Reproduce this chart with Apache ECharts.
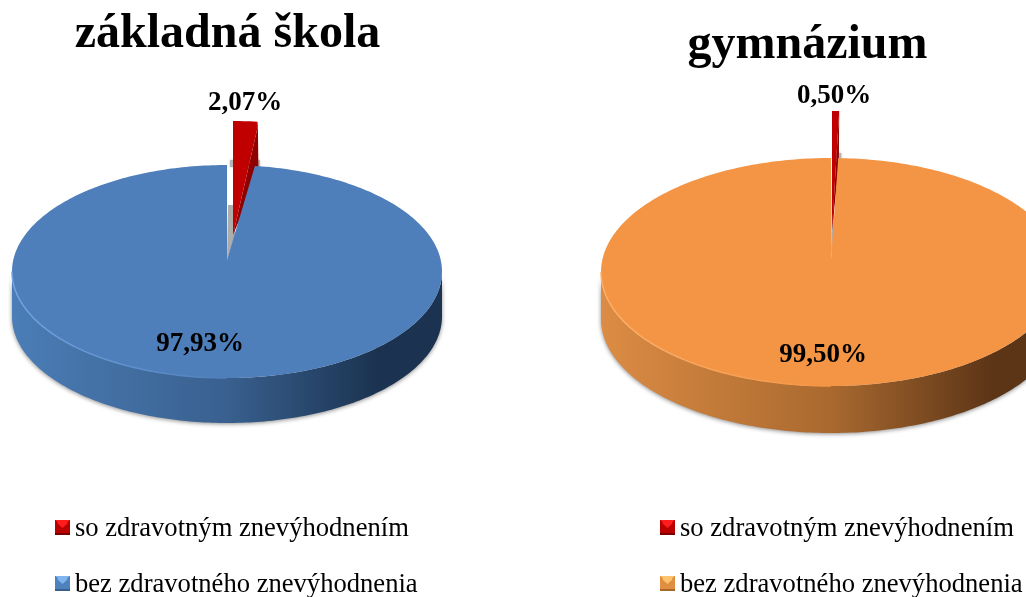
<!DOCTYPE html>
<html>
<head>
<meta charset="utf-8">
<script src="https://cdn.jsdelivr.net/npm/echarts@6/dist/echarts.min.js"></script>
<style>html,body{margin:0;padding:0;background:#fff}#chart{width:1026px;height:597px}</style>
</head>
<body>
<div id="chart"></div>
<script>
var sliceNames = ['so zdravotným znevýhodnením', 'bez zdravotného znevýhodnenia'];
var pieTitles = ['základná škola', 'gymnázium'];
var schoolValues = [2.07, 97.93];
var gymValues = [0.50, 99.50];

var SERIF = '"Liberation Serif", "Times New Roman", serif';

var schoolPie = {
    cx: 227, cy: 271.5, rx: 215, ry: 106.5, apexX: 227, apexY: 260, depth: 45,
    liftX: 6, liftTop: 44, liftApex: 25, wall: 55, tipX: -3, tipY: 4,
    labels: [[245, 103], [200, 344]],
    top: '#4e7fbb', rim: '#74a5e2',
    side: ['#4b7db6', '#39608f', '#1b3350']
};
var gymPie = {
    cx: 831, cy: 272, rx: 230, ry: 114, apexX: 831, apexY: 260, depth: 47,
    liftX: 1, liftTop: 47, liftApex: 30, wall: 100, tipX: 0, tipY: 0,
    labels: [[834, 96], [823, 355]],
    top: '#f39545', rim: '#fbb26e',
    side: ['#dc8c44', '#a9692f', '#5c3517']
};

function arcPoints(p, from, to, dx, dy) {
    var pts = [];
    var n = Math.max(2, Math.ceil((to - from) / (Math.PI / 180)));
    for (var i = 0; i <= n; i++) {
        var a = from + (to - from) * i / n;
        pts.push([p.cx + p.rx * Math.sin(a) + dx, p.cy - p.ry * Math.cos(a) + dy]);
    }
    return pts;
}

function fmt(v) {
    return v.toFixed(2).replace('.', ',') + '%';
}

function labelEl(p, i, v) {
    return {
        type: 'text', z2: 20,
        style: {
            x: p.labels[i][0], y: p.labels[i][1], text: fmt(v), align: 'center', verticalAlign: 'middle',
            font: 'bold 27px ' + SERIF, fill: '#000'
        }
    };
}

// maly vysunuty vysek (cerveny)
function smallSlice(p, v, total) {
    var end = v / total * Math.PI * 2;
    var arc = arcPoints(p, 0, end, p.liftX, -p.liftTop);
    var a = [p.apexX + p.liftX, p.apexY - p.liftApex];
    var right = arc[arc.length - 1];
    right = [right[0] + p.tipX, right[1] + p.tipY];
    arc[arc.length - 1] = right;
    var notch = [p.cx + p.rx * Math.sin(end) + p.liftX * 0.6, p.cy - p.ry * Math.cos(end) + 8];
    return [
        {type: 'polygon', shape: {points: [[p.apexX, p.apexY], [p.apexX + 1, p.apexY - p.wall], [p.apexX + p.liftX + 2, p.apexY - p.wall], [p.apexX + p.liftX + 2, p.apexY - p.liftApex]]}, style: {fill: '#adadad'}},
        {type: 'polygon', shape: {points: [[p.cx + 3, p.cy - p.ry - 5], [right[0] + 2, p.cy - p.ry - 5], [right[0] + 2, p.cy - p.ry + 2], [p.cx + 3, p.cy - p.ry + 2]]}, style: {fill: '#b4b4b4', shadowBlur: 3, shadowColor: 'rgba(0,0,0,0.25)'}},
        {type: 'polygon', shape: {points: [right, notch, a]}, style: {fill: '#8f0000'}},
        {type: 'polygon', shape: {points: [a].concat(arc)}, style: {fill: '#c00000'}},
        labelEl(p, 0, v)
    ];
}

// velky vysek s bocnou stenou
function bigSlice(p, v, total) {
    var start = (total - v) / total * Math.PI * 2;
    var wallTop = arcPoints(p, Math.PI / 2, Math.PI * 1.5, 0, 0);
    var wallBottom = arcPoints(p, Math.PI / 2, Math.PI * 1.5, 0, p.depth).reverse();
    var rim = arcPoints(p, Math.PI, Math.PI * 1.5, 0, 0);
    return [
        {
            type: 'polygon', shape: {points: wallTop.concat(wallBottom)},
            style: {
                fill: new echarts.graphic.LinearGradient(0, 0, 1, 0, [
                    {offset: 0, color: p.side[0]}, {offset: 0.5, color: p.side[1]}, {offset: 0.85, color: p.side[2]}, {offset: 1, color: p.side[2]}
                ]),
                shadowBlur: 4, shadowOffsetY: 1, shadowColor: 'rgba(0,0,0,0.45)'
            }
        },
        {type: 'polygon', shape: {points: [[p.apexX, p.apexY]].concat(arcPoints(p, start, Math.PI * 2, 0, 0))}, style: {fill: p.top}},
        {
            type: 'polyline', shape: {points: rim},
            style: {
                fill: 'none', lineWidth: 1.5,
                stroke: new echarts.graphic.LinearGradient(0, 0, 1, 0, [{offset: 0, color: p.rim}, {offset: 1, color: p.top}])
            }
        },
        labelEl(p, 1, v)
    ];
}

function pieSeries(p, values, idx) {
    var total = values[0] + values[1];
    return {
        name: sliceNames[idx],
        type: 'custom',
        coordinateSystem: 'none',
        silent: true,
        data: [values[idx]],
        renderItem: function (params, api) {
            var v = api.value(0);
            return {type: 'group', children: idx === 0 ? smallSlice(p, v, total) : bigSlice(p, v, total)};
        }
    };
}

// ikona je vyssia ako stvorec, aby stvorec sedel o 2px vyssie nez text
function bevelIcon(c) {
    var svg = '<svg xmlns="http://www.w3.org/2000/svg" width="15" height="19" viewBox="0 0 15 19">' +
        '<rect width="15" height="15" fill="' + c[2] + '"/>' +
        '<polygon points="0,0 15,0 7.5,7.5" fill="' + c[0] + '"/>' +
        '<polygon points="0,0 7.5,7.5 0,15" fill="' + c[1] + '"/>' +
        '<polygon points="15,0 7.5,7.5 15,15" fill="' + c[1] + '"/>' +
        '<rect x="2" y="3" width="11" height="10" fill="' + c[1] + '"/>' +
        '<polygon points="2,3 13,3 7.5,8" fill="' + c[0] + '"/>' +
        '<rect y="13" width="15" height="2" fill="' + c[2] + '"/></svg>';
    return 'image://data:image/svg+xml;charset=utf-8,' + encodeURIComponent(svg);
}

var redIcon = bevelIcon(['#ff1c1c', '#b80000', '#7d0000']);
var blueIcon = bevelIcon(['#7fb4ee', '#4f81bd', '#37608f']);
var orangeIcon = bevelIcon(['#ffc26e', '#e08e3f', '#a8682c']);

function legendFor(left, icon2) {
    return {
        left: left, top: 516, height: 100, orient: 'vertical', itemGap: 29, padding: 0,
        itemWidth: 15, itemHeight: 19, selectedMode: false,
        textStyle: {fontFamily: SERIF, fontSize: 26.6, color: '#000'},
        data: [{name: sliceNames[0], icon: redIcon}, {name: sliceNames[1], icon: icon2}]
    };
}

var chart = echarts.init(document.getElementById('chart'), null, {renderer: 'canvas'});
chart.setOption({
    backgroundColor: '#fff',
    animation: false,
    title: [
        {text: pieTitles[0], left: 222.5, top: 6, textAlign: 'center', textStyle: {fontFamily: SERIF, fontWeight: 'bold', fontSize: 48, color: '#000'}},
        {text: pieTitles[1], left: 802.5, top: 17, textAlign: 'center', textStyle: {fontFamily: SERIF, fontWeight: 'bold', fontSize: 48, color: '#000'}}
    ],
    legend: [legendFor(55, blueIcon), legendFor(660, orangeIcon)],
    series: [
        pieSeries(schoolPie, schoolValues, 0),
        pieSeries(schoolPie, schoolValues, 1),
        pieSeries(gymPie, gymValues, 0),
        pieSeries(gymPie, gymValues, 1)
    ]
});
</script>
</body>
</html>
